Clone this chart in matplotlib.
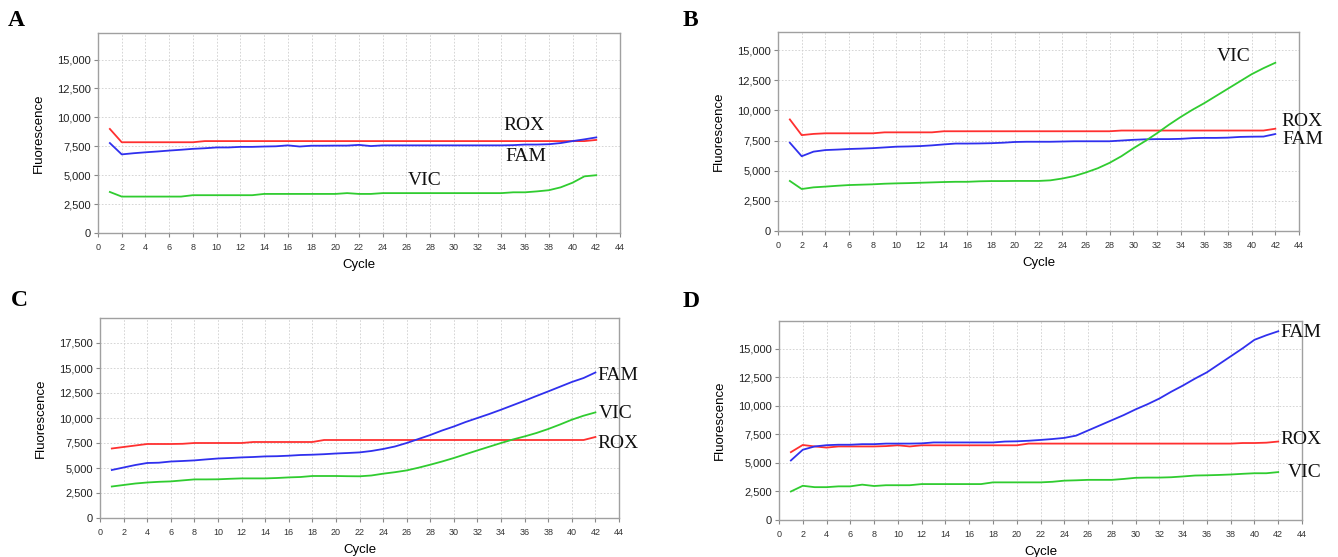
import matplotlib
matplotlib.use("Agg")
import matplotlib.pyplot as plt

cycles = list(range(1, 43))

# panel A
a_rox = [9000] + [7850] * 7 + [7950] * 33 + [8050]
a_fam = [7780, 6800, 6900, 6980, 7050, 7130, 7200, 7280, 7330, 7400, 7400, 7450, 7450, 7480,
         7500, 7580, 7480, 7550, 7550, 7560, 7560, 7620, 7520, 7580, 7580, 7580, 7580, 7580,
         7580, 7580, 7580, 7580, 7580, 7580, 7600, 7650, 7650, 7680, 7780, 7950, 8100, 8270]
a_vic = [3550, 3150, 3150, 3150, 3150, 3150, 3150, 3270, 3270, 3270, 3270, 3270, 3270, 3380,
         3380, 3380, 3380, 3380, 3380, 3380, 3450, 3380, 3380, 3450] + [3450] * 10 + \
        [3520, 3520, 3600, 3700, 3950, 4350, 4900, 5000]

# panel B
b_rox = [9250, 7950, 8050, 8100, 8100, 8100, 8100, 8100] + [8180] * 5 + [8270] * 15 + \
        [8330] * 13 + [8480]
b_fam = [7320, 6200, 6580, 6710, 6750, 6800, 6830, 6870, 6930, 6990, 7010, 7040, 7100, 7180,
         7250, 7250, 7260, 7280, 7320, 7380, 7400, 7400, 7400, 7420, 7440, 7440, 7440, 7440,
         7500, 7560, 7600, 7620, 7620, 7640, 7700, 7720, 7720, 7740, 7800, 7820, 7830, 8040]
b_vic = [4150, 3480, 3620, 3680, 3750, 3810, 3840, 3870, 3920, 3950, 3970, 4000, 4030, 4060,
         4080, 4080, 4120, 4140, 4140, 4150, 4150, 4150, 4200, 4350, 4550, 4850, 5200, 5650,
         6200, 6850, 7450, 8100, 8800, 9450, 10050, 10600, 11200, 11800, 12400, 13000, 13500, 13950]

# panel C
c_rox = [6950, 7100, 7250, 7400, 7400, 7400, 7420, 7500] + [7500] * 4 + [7600] * 6 + \
        [7800] * 23 + [8100]
c_fam = [4800, 5050, 5300, 5500, 5530, 5650, 5700, 5760, 5860, 5950, 6000, 6060, 6100, 6160,
         6180, 6230, 6300, 6330, 6380, 6450, 6500, 6560, 6700, 6900, 7150, 7500, 7900, 8300,
         8750, 9150, 9600, 10000, 10400, 10830, 11280, 11730, 12200, 12660, 13130, 13600, 14000, 14550]
c_vic = [3150, 3300, 3450, 3550, 3620, 3660, 3760, 3860, 3860, 3870, 3920, 3960, 3960, 3960,
         4000, 4060, 4100, 4200, 4200, 4200, 4180, 4170, 4250, 4430, 4580, 4760, 5030, 5330,
         5650, 6000, 6380, 6760, 7130, 7500, 7850, 8160, 8500, 8900, 9350, 9830, 10230, 10560]

# panel D
d_rox = [5950, 6580, 6450, 6350, 6450, 6450, 6450, 6450, 6480, 6550, 6450, 6550] + \
        [6550] * 8 + [6700] * 18 + [6750, 6750, 6780, 6880]
d_fam = [5220, 6160, 6450, 6560, 6600, 6600, 6650, 6650, 6700, 6700, 6700, 6720, 6800, 6800,
         6800, 6800, 6800, 6800, 6880, 6900, 6950, 7020, 7100, 7200, 7400, 7850, 8300, 8750,
         9200, 9700, 10150, 10650, 11250, 11800, 12400, 12950, 13650, 14350, 15050, 15800, 16200, 16550]
d_vic = [2500, 3000, 2880, 2880, 2950, 2950, 3100, 2980, 3050, 3050, 3050, 3150] + \
        [3150] * 5 + [3300] * 5 + \
        [3350, 3450, 3480, 3520, 3520, 3520, 3600, 3700, 3720, 3720, 3750, 3820, 3900, 3920,
         3950, 3990, 4050, 4100, 4100, 4200]

RED, BLUE, GREEN = '#ff3030', '#3030ee', '#30cc30'

W, H = 1338, 557
fig = plt.figure(figsize=(W / 100, H / 100), dpi=100)


def px_axes(left, top, right, bottom):
    return fig.add_axes([left / W, 1 - bottom / H, (right - left) / W, (bottom - top) / H])


panels = [
    # letter, letter pos (px), axes box (px), ymax, yticks max, series, labels
    ('A', (8, 10), (98, 33, 620, 233), 17300, 15000,
     (a_rox, a_fam, a_vic),
     [('ROX', 35.9, 9290, 'center'), ('FAM', 36.1, 6610, 'center'), ('VIC', 27.5, 4570, 'center')]),
    ('B', (683, 10), (778, 32, 1299, 231), 16500, 15000,
     (b_rox, b_fam, b_vic),
     [('VIC', 38.5, 14500, 'center'), ('ROX', 42.5, 9115, 'left'), ('FAM', 42.6, 7600, 'left')]),
    ('C', (11, 290), (100, 318, 619, 518), 20000, 17500,
     (c_rox, c_fam, c_vic),
     [('FAM', 42.2, 14260, 'left'), ('VIC', 42.25, 10500, 'left'), ('ROX', 42.2, 7430, 'left')]),
    ('D', (683, 291), (779, 321, 1302, 520), 17450, 15000,
     (d_rox, d_fam, d_vic),
     [('FAM', 42.2, 16470, 'left'), ('ROX', 42.2, 7060, 'left'), ('VIC', 42.8, 4190, 'left')]),
]

for letter, (lx, ly), box, ymax, ytop, series, labels in panels:
    ax = px_axes(*box)
    rox, fam, vic = series
    ax.plot(cycles, rox, color=RED, lw=1.3)
    ax.plot(cycles, fam, color=BLUE, lw=1.3)
    ax.plot(cycles, vic, color=GREEN, lw=1.3)
    ax.set_xlim(0, 44)
    ax.set_ylim(0, ymax)
    ax.set_xticks(range(0, 45, 2))
    yt = list(range(0, ytop + 1, 2500))
    ax.set_yticks(yt)
    ax.set_yticklabels([f'{v:,}' for v in yt], fontsize=8, family='Liberation Sans', color='#222222')
    ax.set_xticklabels([str(v) for v in range(0, 45, 2)], fontsize=6.5,
                       family='Liberation Sans', color='#333333')
    ax.grid(True, color='#cfcfcf', linestyle=(0, (2, 2)), linewidth=0.6)
    for s in ax.spines.values():
        s.set_color('#a0a0a0')
        s.set_linewidth(1.0)
    ax.tick_params(axis='both', length=3, width=0.8, color='#888888', pad=2)
    ax.tick_params(axis='x', pad=4)
    ax.set_xlabel('Cycle', fontsize=9.5, family='Liberation Sans', labelpad=5)
    ax.set_ylabel('Fluorescence', fontsize=9.5, family='Liberation Sans', labelpad=9)
    for text, x, y, ha in labels:
        ax.text(x, y, text, ha=ha, va='center', fontsize=14, family='Liberation Serif',
                color='#111111', clip_on=False)
    fig.text(lx / W, 1 - ly / H, letter, ha='left', va='top', fontsize=17,
             family='Liberation Serif', fontweight='bold')

fig.savefig('out.png', dpi=100)
